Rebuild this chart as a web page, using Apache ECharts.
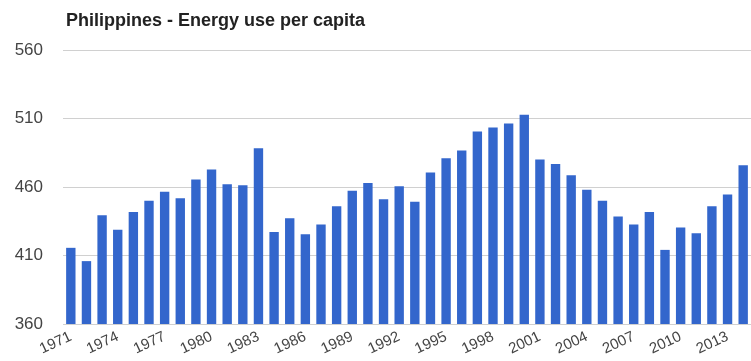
<!DOCTYPE html>
<html>
<head>
<meta charset="utf-8">
<script src="https://cdn.jsdelivr.net/npm/echarts@6/dist/echarts.min.js"></script>
<style>
  html, body { margin: 0; padding: 0; background: #fff; }
  #chart { width: 751px; height: 361px; }
</style>
</head>
<body>
<div id="chart"></div>
<script>
// years shown on the x axis
const years = [];
for (let y = 1971; y <= 2014; y++) years.push(String(y));

// energy use per capita
const energyUse = [
  415.6, 405.9, 439.3, 428.8, 441.7, 450.0, 456.6, 451.7, 465.4, 472.7,
  462.0, 461.2, 488.3, 427.1, 437.1, 425.6, 432.7, 445.9, 457.3, 462.9,
  451.0, 460.5, 449.3, 470.5, 481.0, 486.6, 500.5, 503.5, 506.3, 512.7,
  480.0, 476.8, 468.5, 458.0, 450.0, 438.5, 432.7, 441.7, 414.1, 430.5,
  426.3, 445.9, 454.6, 475.9
];

const yTicks = [360, 410, 460, 510, 560];

const chart = echarts.init(document.getElementById('chart'));
chart.setOption({
  animation: false,
  title: {
    text: 'Philippines - Energy use per capita',
    left: 61,
    top: 7,
    textStyle: {
      fontFamily: 'Liberation Sans',
      fontSize: 18,
      fontWeight: 'bold',
      color: '#222'
    }
  },
  grid: {
    left: 63,
    right: -3,
    top: 50,
    bottom: 37
  },
  xAxis: {
    type: 'category',
    data: years,
    axisLine: { show: false },
    axisTick: { show: false },
    axisLabel: {
      interval: 2,
      rotate: 25,
      margin: 12,
      fontFamily: 'Liberation Sans',
      fontSize: 15,
      color: '#444'
    }
  },
  yAxis: {
    type: 'value',
    min: yTicks[0],
    max: yTicks[yTicks.length - 1],
    interval: 50,
    axisLine: { show: false },
    axisTick: { show: false },
    axisLabel: {
      margin: 20,
      fontFamily: 'Liberation Sans',
      fontSize: 17,
      color: '#444'
    },
    splitLine: { lineStyle: { color: '#d0d0d0', width: 1 } }
  },
  series: [{
    type: 'bar',
    data: energyUse,
    barCategoryGap: '40%',
    itemStyle: { color: '#3366cc' }
  }]
});
</script>
</body>
</html>
